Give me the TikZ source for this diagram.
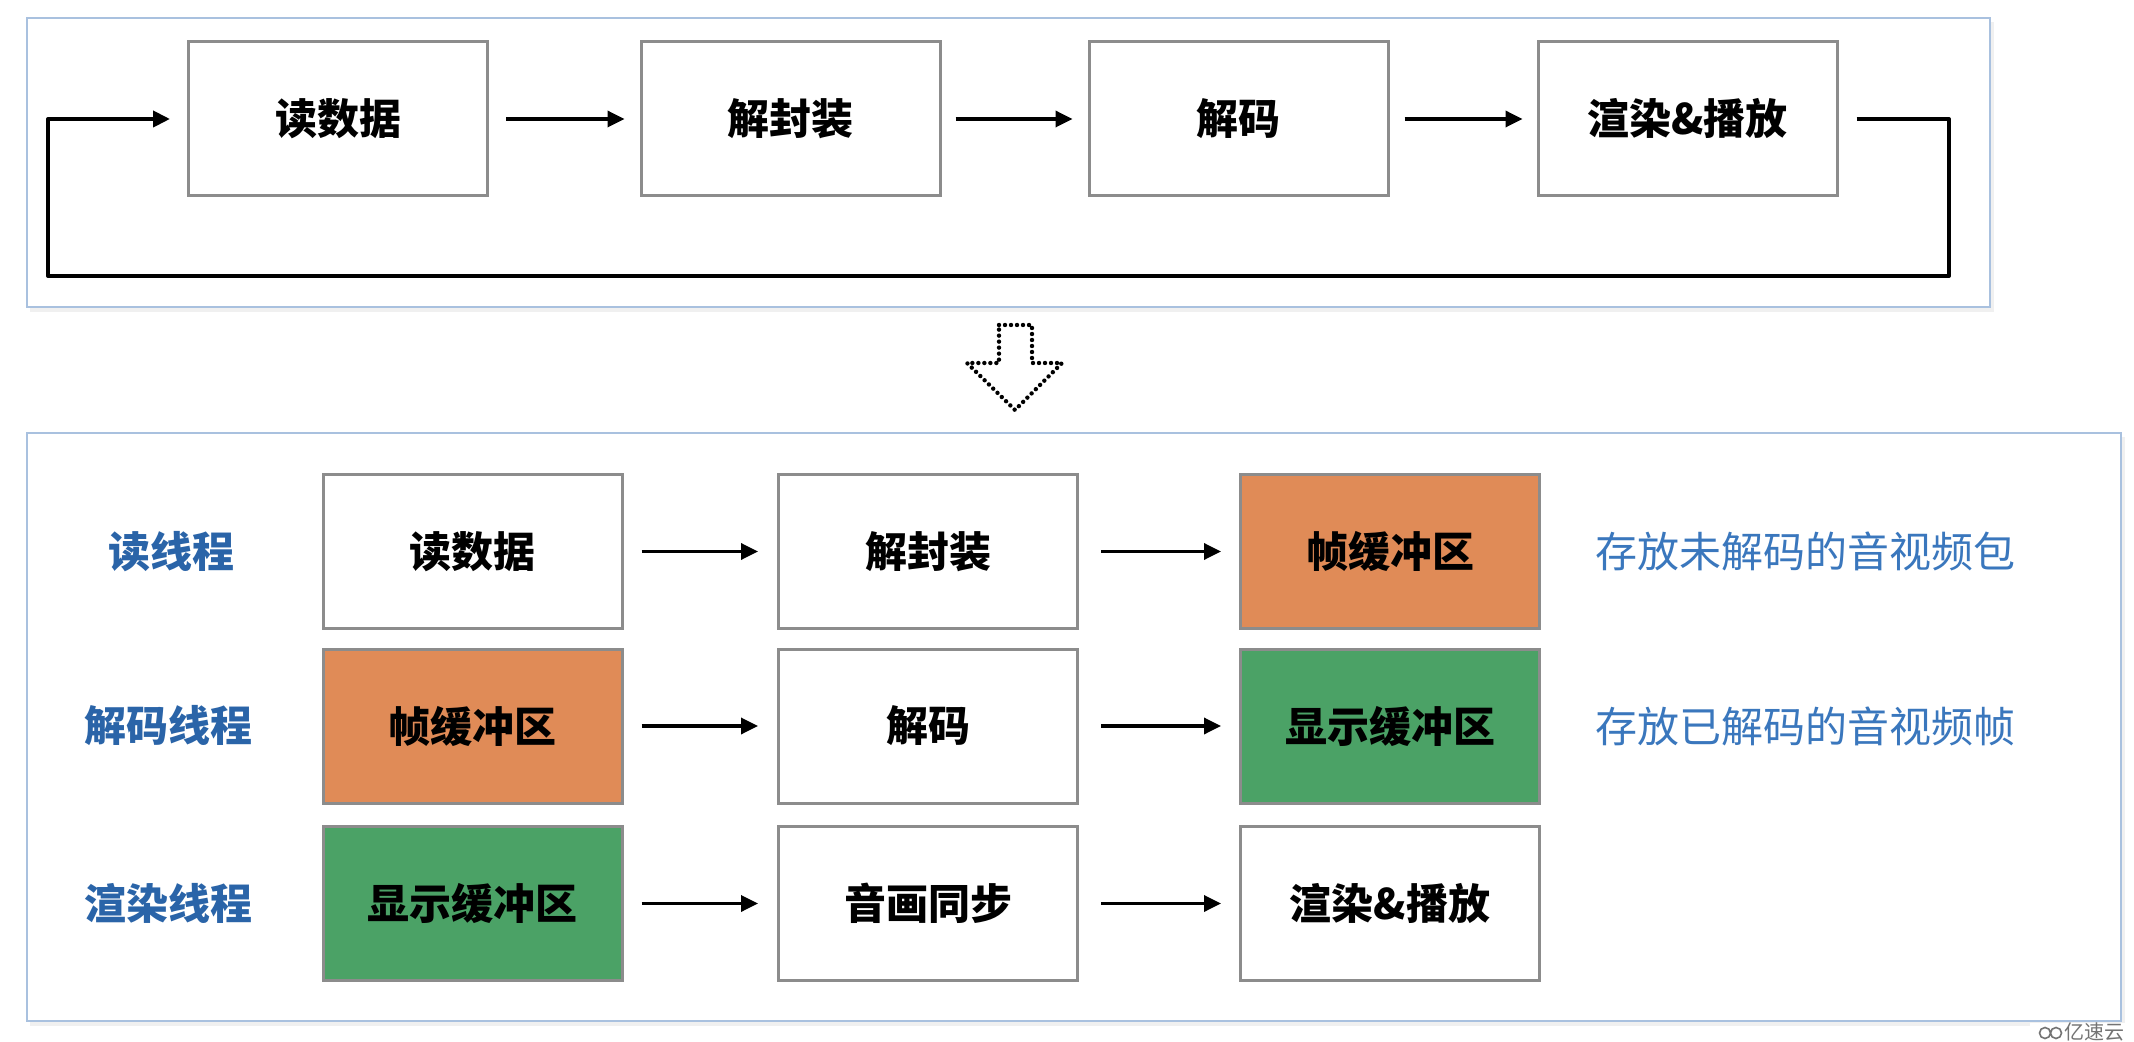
\documentclass[tikz,border=0pt]{standalone}
\usepackage{fontspec}
\newfontfamily\cjk{Noto Sans CJK SC}
\usetikzlibrary{arrows.meta}
\definecolor{panelblue}{HTML}{A9C1DF}
\definecolor{boxgray}{HTML}{8C8C8C}
\definecolor{fillorange}{HTML}{E08B57}
\definecolor{fillgreen}{HTML}{4BA266}
\definecolor{labelblue}{HTML}{2A64A8}
\definecolor{noteblue}{HTML}{3A77BD}
\begin{document}
\begin{tikzpicture}[x=0.5pt,y=-0.5pt,
  panel/.style={draw=panelblue, line width=1.2pt, fill=white},
  shadowbox/.style={fill=black!6, draw=none},
  box/.style={draw=boxgray, line width=1.5pt, fill=white, minimum width=149.5pt, minimum height=77pt, inner sep=0pt, font=\cjk\bfseries\fontsize{21pt}{25pt}\selectfont},
  orangebox/.style={box, fill=fillorange},
  greenbox/.style={box, fill=fillgreen},
  flow/.style={-{Triangle[length=8.5pt,width=8pt]}, line width=1.7pt},
  feedback/.style={-{Triangle[length=8.5pt,width=8pt]}, line width=2pt, line join=round},
  thread/.style={font=\cjk\bfseries\fontsize{21pt}{25pt}\selectfont, text=labelblue, inner sep=0pt},
  note/.style={font=\cjk\fontsize{21pt}{25pt}\selectfont, text=noteblue, inner sep=0pt, anchor=west},
  dotarrow/.style={draw=black, line width=2.2pt, dash pattern=on 0pt off 3pt, line cap=round, line join=round}
]
\useasboundingbox (0,0) rectangle (2134,1042);
\fill[white] (0,0) rectangle (2134,1042);

% ---------- top panel ----------
\fill[shadowbox] (30,22) rectangle (1994,312);
\draw[panel] (27,18) rectangle (1990,307);
\node[box] (a) at (338,119) {读数据};
\node[box] (b) at (790.5,119) {解封装};
\node[box] (c) at (1238.5,119) {解码};
\node[box] (d) at (1687.5,119) {渲染\&播放};
\draw[flow, shorten <=8.5pt, shorten >=7.5pt] (a.east) -- (b.west);
\draw[flow, shorten <=7pt, shorten >=7.5pt] (b.east) -- (c.west);
\draw[flow, shorten <=7.5pt, shorten >=7pt] (c.east) -- (d.west);
\coordinate (fbR) at (1949,276);
\coordinate (fbL) at (48,276);
\draw[feedback] ([xshift=9pt]d.east) -| (fbR) -- (fbL) |- ([xshift=-8.5pt]a.west);

% ---------- dotted down arrow ----------
\draw[dotarrow] (999,325) -- (1032,325) -- (1032,363) -- (1062,363) -- (1015,410) -- (967,363) -- (999,363) -- cycle;

% ---------- bottom panel ----------
\fill[shadowbox] (30,437) rectangle (2125,1026);
\draw[panel] (27,433) rectangle (2121,1021);

\node[box] (r1) at (472.5,551.5) {读数据};
\node[box] (r2) at (928,551.5) {解封装};
\node[orangebox] (r3) at (1390,551.5) {帧缓冲区};

\node[orangebox] (d1) at (472.5,726) {帧缓冲区};
\node[box] (d2) at (928,726) {解码};
\node[greenbox] (d3) at (1390,726) {显示缓冲区};

\node[greenbox] (p1) at (472.5,903.5) {显示缓冲区};
\node[box] (p2) at (928,903.5) {音画同步};
\node[box] (p3) at (1390,903.5) {渲染\&播放};

\foreach \u/\v in {r1/r2,d1/d2,p1/p2}
  \draw[flow, shorten <=9pt, shorten >=9.5pt] (\u.east) -- (\v.west);
\foreach \u/\v in {r2/r3,d2/d3,p2/p3}
  \draw[flow, shorten <=11pt, shorten >=9pt] (\u.east) -- (\v.west);

\node[thread] (t1) at (171,551.5) {读线程};
\node[thread] (t2) at (168,726) {解码线程};
\node[thread] (t3) at (168,903.5) {渲染线程};

\node[note] (n1) at (1595,551.5) {存放未解码的音视频包};
\node[note] (n2) at (1595,726) {存放已解码的音视频帧};

% ---------- watermark ----------
\fill[white] (2030,1023) rectangle (2134,1042);
\draw[black!55, line width=0.8pt] (2045,1033) circle (5.5) (2056,1033) circle (5.5);
\node[font=\cjk\fontsize{10pt}{12pt}\selectfont, text=black!55, inner sep=0pt, anchor=west] (wm) at (2064,1032) {亿速云};
\end{tikzpicture}
\end{document}
